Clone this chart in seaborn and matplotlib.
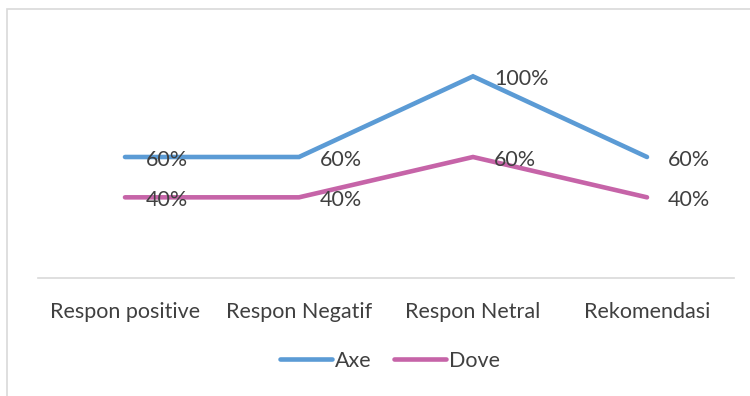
import matplotlib
matplotlib.use("Agg")
import matplotlib.pyplot as plt
import seaborn as sns
import pandas as pd
from matplotlib.patches import Rectangle
from matplotlib.lines import Line2D

categories = ["Respon positive", "Respon Negatif", "Respon Netral", "Rekomendasi"]
axe_values = [60, 60, 100, 60]
dove_values = [40, 40, 60, 40]
series_names = ["Axe", "Dove"]
colors = ["#5B9BD5", "#C664A8"]

df = pd.DataFrame({
    "cat": categories * 2,
    "x": list(range(len(categories))) * 2,
    "val": axe_values + dove_values,
    "series": [series_names[0]] * 4 + [series_names[1]] * 4,
})

sns.set_style("white")
plt.rcParams['font.family'] = ['Lato', 'DejaVu Sans']
text_color = "#404040"
fs = 15.5

fig = plt.figure(figsize=(7.5, 3.96), dpi=100)
fig.patches.append(Rectangle((7 / 750, -0.1), 1.2, 1 - 9 / 396 + 0.1, transform=fig.transFigure,
                             fill=False, edgecolor="#D9D9D9", linewidth=1.2))
ax = fig.add_axes([38 / 750, 1 - 278 / 396, (734 - 38) / 750, (278 - 36) / 396])

sns.lineplot(data=df, x="x", y="val", hue="series", palette=colors, linewidth=3.3,
             ax=ax, legend=False)
for line in ax.get_lines():
    line.set_solid_capstyle("round")
    line.set_solid_joinstyle("miter")

ax.set_xlim(-0.5, len(categories) - 0.5)
ax.set_ylim(0, 120)
ax.set_xticks(range(len(categories)))
ax.set_xticklabels(categories, fontsize=fs, color=text_color)
ax.tick_params(axis="x", length=0, pad=17)
ax.set_yticks([])
ax.set_xlabel("")
ax.set_ylabel("")
for s in ["top", "right", "left"]:
    ax.spines[s].set_visible(False)
ax.spines["bottom"].set_color("#D9D9D9")
ax.spines["bottom"].set_linewidth(1.2)

for vals in [axe_values, dove_values]:
    for i, v in enumerate(vals):
        ax.annotate(f"{v}%", (i, v), xytext=(15, -2), textcoords="offset points",
                    ha="left", va="center", fontsize=fs, color=text_color)

handles = [Line2D([0], [0], color=c, linewidth=3.3, solid_capstyle="round") for c in colors]
fig.legend(handles, series_names, loc="center", bbox_to_anchor=(390 / 750, 1 - 361 / 396),
           ncol=2, frameon=False, fontsize=fs, handlelength=2.4, handletextpad=0.15,
           columnspacing=1.05, labelcolor=text_color)

fig.savefig("out.png", dpi=100)
